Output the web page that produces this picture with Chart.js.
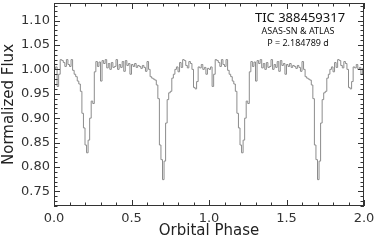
<!DOCTYPE html>
<html>
<head>
<meta charset="utf-8">
<script src="https://cdn.jsdelivr.net/npm/chart.js@4"></script>
<style>
  html, body { margin: 0; padding: 0; background: #fff; }
  #wrap { width: 374px; height: 240px; }
</style>
</head>
<body>
<div id="wrap"><canvas id="lc" width="374" height="240"></canvas></div>
<script>
// one folded cycle, 0.01 phase bins (left edges), shown twice
const binWidth = 0.01;
const fluxCycle = [
  1.000, 1.005, 0.965, 0.990, 1.020, 1.018, 1.014, 1.006, 1.020, 1.010,
  1.006, 1.020, 0.998, 0.990, 0.985, 0.976, 0.970, 0.955, 0.910, 0.880,
  0.845, 0.829, 0.855, 0.900, 0.935, 0.930, 0.995, 1.016, 1.006, 1.015,
  0.976, 1.018, 1.012, 1.020, 1.003, 1.012, 1.000, 1.014, 1.004, 1.006,
  1.020, 1.000, 1.010, 1.004, 1.016, 0.996, 1.018, 1.008, 1.012, 0.990,
  1.010, 1.006, 1.012, 1.004, 1.008, 1.006, 1.002, 1.008, 1.004, 0.996,
  1.016, 1.000, 0.985, 0.982, 0.980, 0.978, 0.968, 0.940, 0.845, 0.815,
  0.774, 0.812, 0.890, 0.938, 0.952, 0.955, 0.982, 0.990, 1.000, 1.005,
  0.995, 1.014, 1.004, 1.020, 1.018, 1.008, 1.003, 1.016, 1.012, 1.000,
  0.963, 0.960, 0.975, 1.005, 1.003, 1.010, 1.000, 1.004, 0.990, 1.002
];
const nCycles = 2;

const xTicks = [0.0, 0.5, 1.0, 1.5, 2.0];
const yTicks = [0.75, 0.80, 0.85, 0.90, 0.95, 1.00, 1.05, 1.10];
const xRange = [0, 2];
const yRange = [0.72, 1.136];

const titleLines = ['TIC 388459317', 'ASAS-SN & ATLAS', 'P = 2.184789 d'];

const points = [];
for (let c = 0; c < nCycles; c++) {
  fluxCycle.forEach((f, i) => {
    points.push({ x: +(c + i * binWidth).toFixed(2), y: f });
  });
}
points.push({ x: nCycles, y: fluxCycle[fluxCycle.length - 1] });

const axisColor = '#333';

// frame with inward major/minor ticks on all four sides
const frame = {
  id: 'frame',
  afterDraw(chart) {
    const { ctx, chartArea: a, scales: { x, y } } = chart;
    ctx.save();
    ctx.strokeStyle = axisColor;
    ctx.lineWidth = 1;
    ctx.strokeRect(a.left + 0.5, a.top + 0.5, a.right - a.left - 1, a.bottom - a.top - 1);
    ctx.beginPath();
    for (let k = 0; k <= 20; k++) {
      const px = Math.round(x.getPixelForValue(k * 0.1)) + 0.5;
      const len = k % 5 === 0 ? 6 : 3.5;
      ctx.moveTo(px, a.bottom); ctx.lineTo(px, a.bottom - len);
      ctx.moveTo(px, a.top); ctx.lineTo(px, a.top + len);
    }
    for (let k = 72; k <= 113; k++) {
      const py = Math.round(y.getPixelForValue(k / 100)) + 0.5;
      const len = k % 5 === 0 ? 6 : 3.5;
      ctx.moveTo(a.left, py); ctx.lineTo(a.left + len, py);
      ctx.moveTo(a.right, py); ctx.lineTo(a.right - len, py);
    }
    ctx.stroke();

    ctx.fillStyle = '#111';
    ctx.textAlign = 'center';
    ctx.textBaseline = 'middle';
    const cx = a.right - 66;
    ctx.font = '13px "Noto Sans"';
    ctx.fillText(titleLines[0], cx + 2, a.top + 15);
    ctx.font = '9px "Noto Sans"';
    ctx.fillText(titleLines[1], cx, a.top + 28);
    ctx.fillText(titleLines[2], cx, a.top + 40);
    ctx.restore();
  }
};

new Chart(document.getElementById('lc'), {
  type: 'line',
  data: {
    datasets: [{
      data: points,
      borderColor: '#8c8c8c',
      borderWidth: 1,
      pointRadius: 0,
      stepped: 'before',
      fill: false
    }]
  },
  options: {
    responsive: false,
    animation: false,
    layout: { padding: { top: 3, right: 10, left: 0, bottom: 0 } },
    plugins: { legend: { display: false }, tooltip: { enabled: false } },
    scales: {
      x: {
        type: 'linear',
        min: xRange[0],
        max: xRange[1],
        grid: { display: false, drawTicks: false },
        border: { display: false },
        afterBuildTicks: s => { s.ticks = xTicks.map(v => ({ value: v })); },
        afterFit: s => { s.height = 34; s.paddingLeft = 0; s.paddingRight = 0; },
        ticks: {
          padding: 5,
          color: '#333',
          font: { family: 'DejaVu Sans', size: 13 },
          callback: v => v.toFixed(1)
        },
        title: {
          display: true,
          text: 'Orbital Phase',
          color: '#222',
          font: { family: 'DejaVu Sans', size: 15, lineHeight: 1 },
          padding: { top: 0, bottom: 1 }
        }
      },
      y: {
        type: 'linear',
        min: yRange[0],
        max: yRange[1],
        grid: { display: false, drawTicks: false },
        border: { display: false },
        afterBuildTicks: s => { s.ticks = yTicks.map(v => ({ value: v })); },
        afterFit: s => { s.width = 54; s.paddingTop = 0; s.paddingBottom = 0; },
        ticks: {
          padding: 4,
          color: '#333',
          font: { family: 'DejaVu Sans', size: 13 },
          callback: v => v.toFixed(2)
        },
        title: {
          display: true,
          text: 'Normalized Flux',
          color: '#222',
          font: { family: 'DejaVu Sans', size: 15, lineHeight: 1 },
          padding: { top: 2, bottom: 0 }
        }
      }
    }
  },
  plugins: [frame]
});
</script>
</body>
</html>
